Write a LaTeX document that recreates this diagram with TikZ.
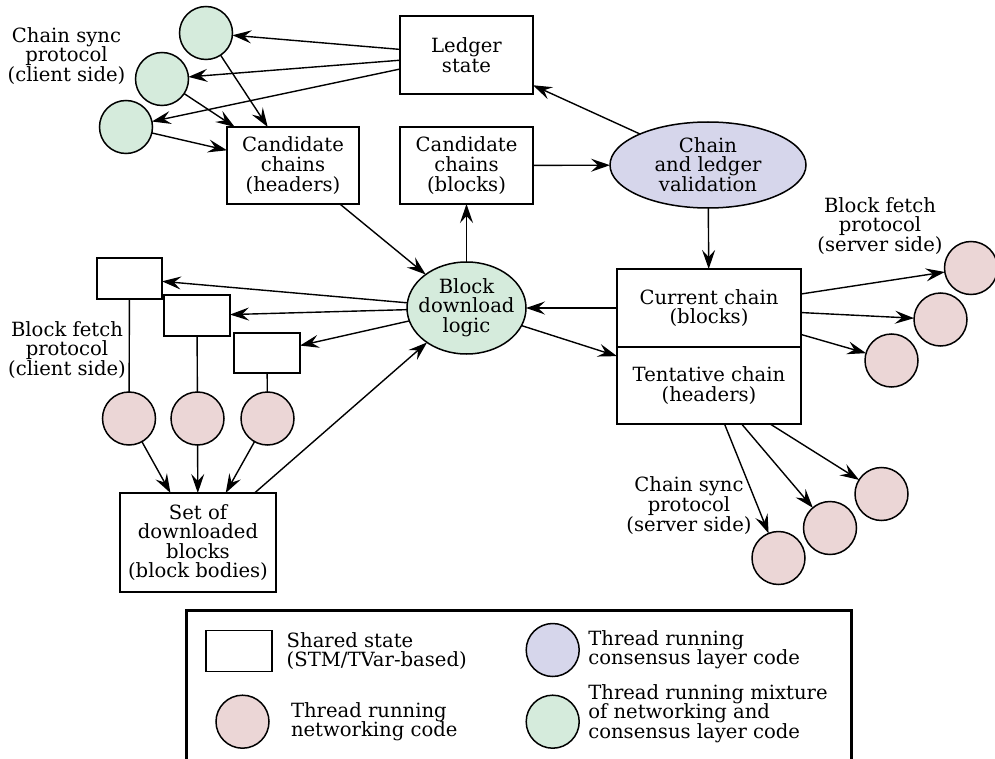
\documentclass[tikz,border=0pt]{standalone}
\usepackage{fontspec}
\setmainfont{DejaVu Serif}
\usetikzlibrary{shapes.geometric,arrows.meta}
\definecolor{gfill}{HTML}{D5EBDC}
\definecolor{pfill}{HTML}{EBD6D6}
\definecolor{bfill}{HTML}{D6D6EB}
\begin{document}
\begin{tikzpicture}[x=1pt,y=-1pt,
  every node/.style={inner sep=0pt, outer sep=0pt},
  txt/.style={align=center, font=\fontsize{19.6}{19.6}\selectfont},
  ltxt/.style={align=left, anchor=west, font=\fontsize{19.6}{19.4}\selectfont},
  box/.style={draw, rectangle, line width=1.5pt, fill=white, txt},
  thr/.style={draw, circle, line width=1.5pt, minimum size=53pt},
  pk/.style={thr, fill=pfill},
  gn/.style={thr, fill=gfill},
  ell/.style={draw, ellipse, line width=1.5pt},
  arr/.style={-{Stealth[length=19pt,width=13pt,inset=7pt]}, line width=1.4pt},
  ln/.style={line width=1.4pt}
]
\useasboundingbox (0,0) rectangle (995,759);

% boxes
\node[box, minimum width=133pt, minimum height=78pt] (ledger) at (466.5,55) {Ledger\\state};
\node[box, minimum width=133pt, minimum height=77pt] (candb) at (466.5,165.5) {Candidate\\chains\\(blocks)};
\node[box, minimum width=132pt, minimum height=77pt] (candh) at (293,165.5) {Candidate\\chains\\(headers)};
\node[box, minimum width=184pt, minimum height=78pt] (cur) at (709,308) {Current chain\\(blocks)};
\node[box, minimum width=184pt, minimum height=77pt] (tent) at (709,385.5) {Tentative chain\\(headers)};
\node[box, minimum width=156pt, minimum height=99pt] (set) at (198,542.5) {Set of\\downloaded\\blocks\\(block bodies)};
\node[box, minimum width=65pt, minimum height=41pt] (s1) at (129.5,278.5) {};
\node[box, minimum width=66pt, minimum height=41pt] (s2) at (197,315.5) {};
\node[box, minimum width=66pt, minimum height=40pt] (s3) at (267,353) {};

% ellipses
\node[ell, fill=bfill, minimum width=196pt, minimum height=86pt] (val) at (708,165) {};
\node[txt] (valt) at (708,164.5) {Chain\\and ledger\\validation};
\node[ell, fill=gfill, minimum width=119pt, minimum height=92pt] (bdl) at (466.5,308) {};
\node[txt] (bdlt) at (466.5,307.5) {Block\\download\\logic};

% threads
\node[gn] (g1) at (206,33) {};
\node[gn] (g2) at (162,79) {};
\node[gn] (g3) at (126,127) {};
\node[pk] (p1) at (129,418.5) {};
\node[pk] (p2) at (197.5,418.5) {};
\node[pk] (p3) at (267.5,418.5) {};
\node[pk] (r1) at (971,268) {};
\node[pk] (r2) at (940.5,319.5) {};
\node[pk] (r3) at (891.5,360.5) {};
\node[pk] (b1) at (881.5,494) {};
\node[pk] (b2) at (830,528) {};
\node[pk] (b3) at (778.5,558) {};

% labels
\node[txt] (lcsc) at (66.5,56) {Chain sync\\protocol\\(client side)};
\node[txt] (lbfc) at (67,350) {Block fetch\\protocol\\(client side)};
\node[txt] (lbfs) at (880,226) {Block fetch\\protocol\\(server side)};
\node[txt] (lcss) at (689,505.5) {Chain sync\\protocol\\(server side)};

% connectors
\foreach \g in {g1,g2,g3}{
  \draw[arr] (ledger) -- (\g);
  \draw[arr] (\g) -- (candh);
}
\draw[arr] (candh) -- (bdl);
\draw[arr] (bdl) -- (candb);
\draw[arr] (candb) -- (val);
\draw[arr] (val) -- (ledger);
\draw[arr] (val) -- (cur);
\draw[arr] (cur) -- (bdl);
\draw[arr] (bdl) -- (tent);
\foreach \s in {s1,s2,s3}{\draw[arr] (bdl) -- (\s);}
\draw[ln] (s1) -- (p1);
\draw[ln] (s2) -- (p2);
\draw[ln] (s3) -- (p3);
\foreach \p in {p1,p2,p3}{\draw[arr] (\p) -- (set);}
\draw[arr] (set) -- (bdl);
\foreach \r in {r1,r2,r3}{\draw[arr] (cur) -- (\r);}
\foreach \b in {b1,b2,b3}{\draw[arr] (tent) -- (\b);}

% legend
\draw[line width=2.6pt] (186.7,765) -- (186.7,610.7) -- (851.7,610.7) -- (851.7,765);
\node[draw, line width=1.5pt, minimum width=66pt, minimum height=41pt] (lgbox) at (239,651.2) {};
\node[pk] (lgp) at (242.5,721.7) {};
\node[thr, fill=bfill] (lgb) at (552.7,650) {};
\node[gn] (lgg) at (552.7,721.7) {};
\node[ltxt] (lt1) at (286.7,651.3) {Shared state\\(STM/TVar-based)};
\node[ltxt] (lt2) at (291,721.9) {Thread running\\networking code};
\node[ltxt] (lt3) at (588.3,649.9) {Thread running\\consensus layer code};
\node[ltxt] (lt4) at (588.3,713.5) {Thread running mixture\\of networking and\\consensus layer code};
\end{tikzpicture}
\end{document}
